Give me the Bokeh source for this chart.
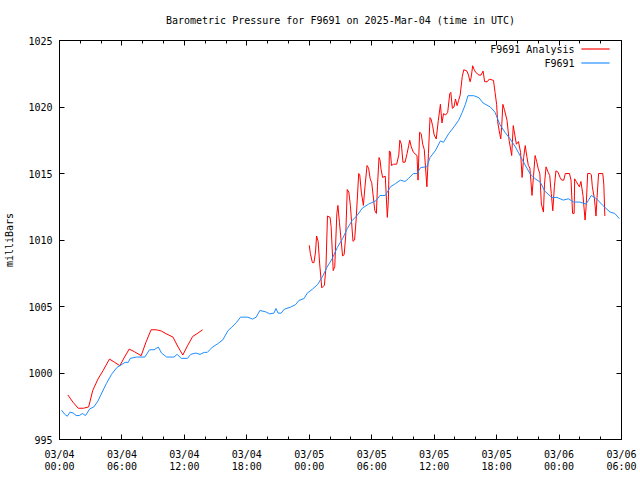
import numpy as np
from bokeh.plotting import figure
from bokeh.models import (Range1d, FixedTicker, DatetimeTickFormatter, DatetimeAxis,
                          LinearAxis, ColumnDataSource, Label, BoxAnnotation)
from bokeh.embed import file_html
from bokeh.resources import INLINE

# Hours are measured from this UTC start time
START = "2025-03-04T00:00"
SPAN_HOURS = 54

# Station F9691 observations
station_hours = [0.2, 0.5, 0.75, 1.0, 1.3, 1.6, 1.9, 2.2, 2.5, 2.9, 3.3, 3.7, 4.0, 4.5, 5.0,
                 5.5, 5.8, 6.3, 6.6, 6.8, 7.4, 8.2, 8.65, 9.1, 9.5, 9.8, 10.3, 11.0, 11.3,
                 11.7, 12.3, 12.6, 13.1, 13.5, 13.9, 14.2, 14.7, 15.2, 15.7, 16.2, 16.5,
                 17.0, 17.4, 18.1, 18.55, 18.9, 19.25, 19.8, 20.2, 20.6, 20.8, 21.0, 21.3,
                 21.6, 22.2, 22.7, 23.0, 23.5, 23.8, 24.3, 24.8, 25.3, 25.7, 26.2, 26.7,
                 27.2, 27.65, 28.1, 28.6, 29.1, 29.7, 30.4, 30.8, 31.3, 31.8, 32.3, 32.75,
                 33.2, 33.5, 34.0, 34.35, 34.7, 35.3, 35.6, 36.1, 36.6, 36.9, 37.4, 37.9,
                 38.35, 38.7, 39.0, 39.25, 39.8, 40.3, 40.7, 41.4, 41.85, 42.3, 42.8, 43.3,
                 43.8, 44.25, 44.7, 45.2, 45.7, 46.2, 46.6, 47.3, 47.8, 48.4, 48.9, 49.4,
                 50.0, 50.6, 51.1, 51.6, 52.2, 52.9, 53.35, 53.8]
station_mb = [997.2, 996.9, 996.75, 997.05, 997.0, 996.8, 996.8, 996.95, 996.8, 997.3, 997.45,
              997.9, 998.4, 999.2, 999.9, 1000.4, 1000.55, 1000.8, 1000.8, 1001.1, 1001.2,
              1001.2, 1001.75, 1001.75, 1001.95, 1001.5, 1001.2, 1001.2, 1001.4, 1001.1,
              1001.1, 1001.4, 1001.5, 1001.4, 1001.55, 1001.55, 1001.95, 1002.2, 1002.5,
              1003.2, 1003.4, 1003.8, 1004.2, 1004.2, 1004.05, 1004.2, 1004.7, 1004.6,
              1004.45, 1004.5, 1004.85, 1004.5, 1004.5, 1004.8, 1004.95, 1005.15, 1005.45,
              1005.6, 1006.0, 1006.3, 1006.65, 1007.3, 1007.95, 1008.6, 1009.45, 1010.1,
              1010.85, 1011.45, 1011.85, 1012.4, 1012.7, 1012.95, 1013.35, 1013.35, 1014.0,
              1014.25, 1014.5, 1014.4, 1014.6, 1015.0, 1015.0, 1015.45, 1015.5, 1016.2,
              1016.7, 1017.45, 1017.35, 1018.0, 1018.5, 1019.0, 1019.6, 1020.2, 1020.85,
              1020.85, 1020.7, 1020.3, 1020.0, 1019.6, 1018.7, 1018.1, 1017.6, 1017.0,
              1016.35, 1015.7, 1015.0, 1014.6, 1014.35, 1013.7, 1013.2, 1013.2, 1013.0,
              1013.1, 1012.85, 1012.85, 1012.7, 1013.35, 1013.1, 1012.6, 1012.1, 1012.0,
              1011.6]

# F9691 Analysis, first run
analysis_hours_1 = [0.8, 1.3, 1.8, 2.3, 2.8, 3.2, 3.7, 4.2, 4.8, 5.3, 5.8, 6.25, 6.7, 7.2,
                    7.85, 8.3, 8.8, 9.3, 9.8, 10.25, 10.9, 11.4, 11.85, 12.3, 12.8, 13.3, 13.75]
analysis_mb_1 = [998.35, 997.8, 997.35, 997.35, 997.45, 998.7, 999.55, 1000.2, 1001.05,
                 1000.8, 1000.55, 1001.2, 1001.8, 1001.6, 1001.3, 1002.3, 1003.25, 1003.25,
                 1003.15, 1002.95, 1002.7, 1001.95, 1001.35, 1002.05, 1002.75, 1003.0, 1003.25]

# F9691 Analysis, second run
analysis_hours_2 = [24.0, 24.1, 24.3, 24.45, 24.6, 24.7, 24.85, 25.0, 25.2, 25.45, 25.6, 25.75,
                    26.0, 26.1, 26.3, 26.45, 26.65, 26.75, 26.9, 27.2, 27.35, 27.5, 27.65,
                    27.8, 27.95, 28.2, 28.35, 28.5, 28.75, 28.85, 29.0, 29.2, 29.35, 29.55,
                    29.7, 29.85, 30.0, 30.3, 30.45, 30.55, 30.7, 30.8, 30.9, 31.05, 31.3,
                    31.5, 31.6, 31.7, 31.8, 31.9, 32.1, 32.4, 32.6, 32.7, 32.85, 33.0, 33.2,
                    33.4, 33.55, 33.65, 33.8, 34.0, 34.35, 34.45, 34.6, 34.75, 34.9, 35.05,
                    35.3, 35.45, 35.6, 35.7, 35.85, 36.0, 36.2, 36.4, 36.6, 36.75, 36.9, 37.1,
                    37.3, 37.5, 37.6, 37.75, 37.9, 38.05, 38.2, 38.35, 38.5, 38.7, 38.85,
                    39.15, 39.3, 39.45, 39.55, 39.7, 39.85, 40.0, 40.3, 40.5, 40.7, 40.85,
                    41.1, 41.3, 41.7, 41.85, 42.0, 42.1, 42.25, 42.4, 42.5, 42.6, 42.75, 43.0,
                    43.2, 43.45, 43.6, 43.75, 43.9, 44.1, 44.3, 44.45, 44.6, 44.75, 44.9,
                    45.05, 45.2, 45.4, 45.55, 45.7, 45.85, 46.0, 46.15, 46.3, 46.5, 46.6,
                    46.75, 46.95, 47.1, 47.25, 47.4, 47.55, 47.7, 47.9, 48.1, 48.25, 48.45,
                    48.6, 49.0, 49.15, 49.3, 49.45, 49.5, 49.65, 49.8, 49.95, 50.1, 50.3,
                    50.5, 50.6, 50.75, 51.0, 51.1, 51.2, 51.4, 51.55, 51.65, 51.8, 52.2,
                    52.3, 52.4]
analysis_mb_2 = [1009.6, 1009.0, 1008.3, 1008.3, 1009.1, 1010.3, 1009.9, 1008.2, 1006.4,
                 1006.6, 1007.9, 1011.8, 1011.7, 1011.0, 1007.7, 1008.0, 1012.0, 1012.6,
                 1011.3, 1008.8, 1008.9, 1010.3, 1013.8, 1013.6, 1012.6, 1009.9, 1010.0,
                 1011.5, 1015.0, 1014.9, 1013.6, 1012.6, 1014.0, 1015.6, 1015.4, 1014.6,
                 1014.3, 1012.2, 1012.0, 1014.0, 1016.2, 1016.0, 1015.3, 1014.7, 1014.8,
                 1011.7, 1013.0, 1016.7, 1016.6, 1015.6, 1015.7, 1015.7, 1016.4, 1017.5,
                 1017.2, 1015.85, 1015.85, 1016.5, 1017.1, 1017.5, 1017.0, 1016.6, 1016.35,
                 1014.5, 1018.1, 1018.0, 1017.2, 1016.8, 1014.0, 1016.5, 1019.2, 1019.1,
                 1018.6, 1017.9, 1017.6, 1019.0, 1020.2, 1018.8, 1019.5, 1019.4, 1019.6,
                 1021.0, 1021.1, 1019.9, 1020.0, 1020.6, 1020.1, 1020.5, 1020.9, 1022.3,
                 1022.8, 1022.7, 1022.4, 1021.9, 1022.2, 1023.1, 1022.8, 1022.6, 1022.4,
                 1022.4, 1022.7, 1021.9, 1021.9, 1022.1, 1022.0, 1021.1, 1020.2, 1018.9,
                 1018.2, 1017.6, 1018.7, 1020.2, 1019.8, 1019.0, 1017.5, 1016.35, 1018.6,
                 1017.9, 1017.2, 1017.4, 1016.6, 1014.7, 1016.2, 1017.1, 1016.3, 1015.6,
                 1015.4, 1013.35, 1014.85, 1016.35, 1015.9, 1015.35, 1015.0, 1012.7, 1012.1,
                 1014.2, 1015.5, 1015.1, 1014.85, 1013.5, 1012.2, 1014.0, 1015.2, 1015.1,
                 1014.7, 1014.5, 1014.5, 1015.0, 1015.0, 1014.5, 1012.0, 1012.0, 1014.6,
                 1014.4, 1014.2, 1014.0, 1014.4, 1013.35, 1011.5, 1012.5, 1015.0, 1015.0,
                 1014.9, 1014.0, 1013.1, 1011.8, 1013.2, 1015.0, 1015.0, 1014.2, 1011.8]

y_ticks = [995, 1000, 1005, 1010, 1015, 1020, 1025]
TITLE = "Barometric Pressure for F9691 on 2025-Mar-04 (time in UTC)"
Y_LABEL = "milliBars"
SERIES_NAMES = ["F9691 Analysis", "F9691"]
SERIES_COLORS = ["#ff0000", "#1e8cff"]

FONT = "DejaVu Sans Mono"
FS = "10px"
HOUR_MS = 3600000.0
base_ms = float(np.datetime64(START, "ms").astype(np.int64))


def to_ms(hours):
    return base_ms + np.asarray(hours, dtype=float) * HOUR_MS


station_src = ColumnDataSource(dict(t=to_ms(station_hours), p=station_mb))
analysis_src = ColumnDataSource(dict(
    t=np.concatenate([to_ms(analysis_hours_1), [np.nan], to_ms(analysis_hours_2)]),
    p=np.concatenate([analysis_mb_1, [np.nan], analysis_mb_2])))

p = figure(width=640, height=480, x_axis_type="datetime",
           x_range=Range1d(base_ms, base_ms + SPAN_HOURS * HOUR_MS),
           y_range=Range1d(y_ticks[0], y_ticks[-1]),
           output_backend="svg", toolbar_location=None,
           min_border_left=59, min_border_right=19, min_border_top=40, min_border_bottom=41,
           background_fill_color="white", border_fill_color="white")

p.title.text = TITLE
p.title.align = "center"
p.title.vertical_align = "top"
p.title.text_font = FONT
p.title.text_font_size = FS
p.title.text_font_style = "normal"
p.title.text_color = "black"
p.title.standoff = 25

p.xgrid.visible = False
p.ygrid.visible = False
p.outline_line_color = "black"
p.outline_line_alpha = 1.0
p.outline_line_width = 1

major_x = list(to_ms(np.arange(0, SPAN_HOURS + 1, 6)))
minor_x = list(to_ms(np.arange(0, SPAN_HOURS + 1, 2)))
x_ticker = FixedTicker(ticks=major_x, minor_ticks=minor_x)
y_ticker = FixedTicker(ticks=y_ticks, minor_ticks=[])
fmt_str = "%m/%d\n%H:%M"
x_fmt = DatetimeTickFormatter(microseconds=fmt_str, milliseconds=fmt_str, seconds=fmt_str,
                              minsec=fmt_str, minutes=fmt_str, hourmin=fmt_str, hours=fmt_str,
                              days=fmt_str, months=fmt_str, years=fmt_str)


def style_axis(ax, labels=True):
    ax.axis_line_color = "black"
    ax.major_tick_line_color = "black"
    ax.minor_tick_line_color = "black"
    ax.major_tick_in = 5
    ax.major_tick_out = 0
    ax.minor_tick_in = 3
    ax.minor_tick_out = 0
    ax.major_label_text_font = FONT
    if labels:
        ax.major_label_text_font_size = FS
        ax.major_label_text_color = "black"
    else:
        ax.major_label_text_font_size = "1px"
        ax.major_label_text_color = None
        ax.major_label_standoff = 0


xa = p.xaxis[0]
xa.ticker = x_ticker
xa.formatter = x_fmt
style_axis(xa)
xa.major_label_standoff = 9
xa.major_label_text_line_height = 1.15

ya = p.yaxis[0]
ya.ticker = y_ticker
style_axis(ya)
ya.major_label_standoff = 7
ya.axis_label = Y_LABEL
ya.axis_label_text_font = FONT
ya.axis_label_text_font_size = FS
ya.axis_label_text_font_style = "normal"
ya.axis_label_text_color = "black"
ya.axis_label_standoff = 10

top = DatetimeAxis(ticker=x_ticker, formatter=x_fmt)
style_axis(top, labels=False)
p.add_layout(top, "above")

right = LinearAxis(ticker=y_ticker)
style_axis(right, labels=False)
p.add_layout(right, "right")

r_an = p.line("t", "p", source=analysis_src, line_color=SERIES_COLORS[0], line_width=1)
r_st = p.line("t", "p", source=station_src, line_color=SERIES_COLORS[1], line_width=1)

# gnuplot-style key: name on the left, line sample on the right (frame-relative pixels)
for i, (name, color) in enumerate(zip(SERIES_NAMES, SERIES_COLORS)):
    yk = 390 - 14 * i
    p.add_layout(Label(x=515, y=yk, x_units="screen", y_units="screen",
                       text=name, text_align="right", text_baseline="middle",
                       text_font=FONT, text_font_size=FS, text_color="black"))
    p.add_layout(BoxAnnotation(left=522, right=550, bottom=yk, top=yk + 1,
                               left_units="screen", right_units="screen",
                               bottom_units="screen", top_units="screen",
                               fill_color=color, fill_alpha=1.0,
                               line_color=color, line_width=0.5))

open("out.html", "w").write(file_html(p, INLINE))
